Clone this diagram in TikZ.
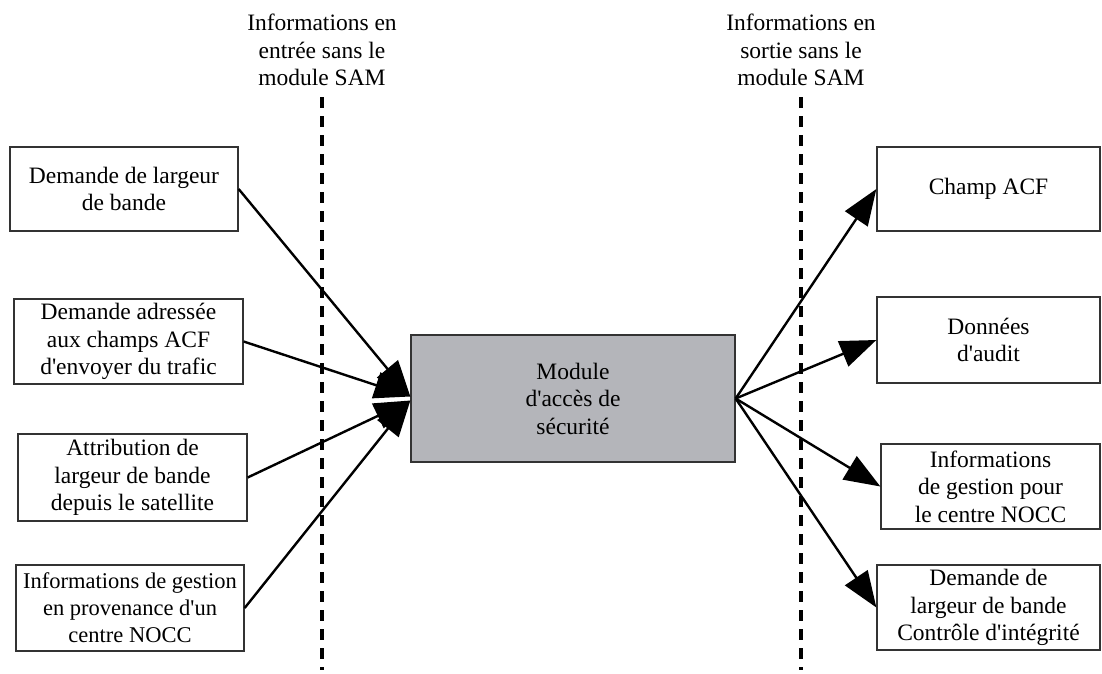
\documentclass[tikz,border=0pt]{standalone}
\usepackage{fontspec}
\setmainfont{Liberation Serif}[Ligatures=TeXOff]
\usetikzlibrary{arrows.meta}
\begin{document}
\begin{tikzpicture}[x=1pt,y=-1pt,
  txt/.style={align=center,inner sep=0pt,font=\fontsize{23.5}{27.5}\selectfont},
  box/.style={txt,draw=black!80,line width=1.3pt},
  arr/.style={draw=black,line width=2.4pt,-{Triangle[length=36pt,width=27pt]}},
  sep/.style={draw=black,line width=4pt,dash pattern=on 11pt off 8pt}]
\useasboundingbox (0,0) rectangle (1102,673);
% left boxes
\node[box,minimum width=228pt,minimum height=84pt] (L1) at (124,189) {Demande de largeur\\de bande};
\node[box,minimum width=229pt,minimum height=85pt] (L2) at (128.5,341.5) {Demande adressée\\aux champs ACF\\d'envoyer du trafic};
\node[box,minimum width=229pt,minimum height=87pt] (L3) at (132.5,477.5) {Attribution de\\largeur de bande\\depuis le satellite};
\node[box,minimum width=228pt,minimum height=86pt,font=\fontsize{22.5}{27}\selectfont] (L4) at (130,608) {Informations de gestion\\en provenance d'un\\centre NOCC};
% central box
\node[box,fill={rgb,255:red,180;green,181;blue,186},minimum width=324pt,minimum height=127pt] (C) at (573,398.5) {Module\\d'accès de\\sécurité};
% right boxes
\node[box,minimum width=223pt,minimum height=84pt] (R1) at (988.5,189) {Champ ACF};
\node[box,minimum width=223pt,minimum height=86pt] (R2) at (988.5,340) {Données\\d'audit};
\node[box,minimum width=219pt,minimum height=85pt] (R3) at (990.5,486.5) {Informations\\de gestion pour\\le centre NOCC};
\node[box,minimum width=223pt,minimum height=85pt] (R4) at (988.5,607.5) {Demande de\\largeur de bande\\Contrôle d'intégrité};
% top labels
\node[txt] (T1) at (322,50) {Informations en\\entrée sans le\\module SAM};
\node[txt] (T2) at (801,50) {Informations en\\sortie sans le\\module SAM};
% dashed separators
\coordinate (d1a) at (322,97); \coordinate (d1b) at (322,670);
\coordinate (d2a) at (801,97); \coordinate (d2b) at (801,670);
\draw[sep] (d1a) -- (d1b);
\draw[sep] (d2a) -- (d2b);
% incoming arrows
\draw[arr] (L1.east) -- ([yshift=2pt]C.west);
\draw[arr] (L2.east) -- ([yshift=2pt]C.west);
\draw[arr] (L3.east) -- ([yshift=-2pt]C.west);
\draw[arr] (L4.east) -- ([yshift=-2pt]C.west);
% outgoing arrows
\draw[arr] (C.east) -- (R1.west);
\draw[arr] (C.east) -- (R2.west);
\draw[arr] (C.east) -- (R3.west);
\draw[arr] (C.east) -- (R4.west);
\end{tikzpicture}
\end{document}
